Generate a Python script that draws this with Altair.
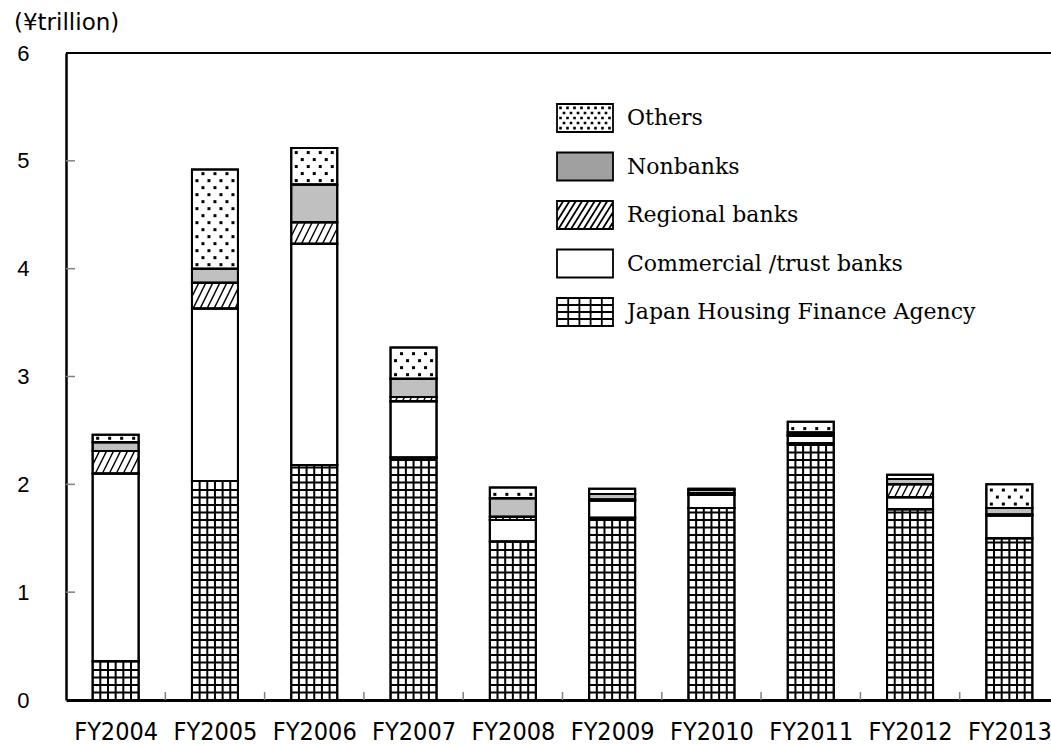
import json
import altair as alt
import pandas as pd

# ---------------- data ----------------
YEARS = ["FY2004", "FY2005", "FY2006", "FY2007", "FY2008",
         "FY2009", "FY2010", "FY2011", "FY2012", "FY2013"]
JHFA = [0.36, 2.03, 2.18, 2.25, 1.47, 1.69, 1.78, 2.38, 1.77, 1.50]
COMMERCIAL = [1.74, 1.60, 2.05, 0.52, 0.20, 0.16, 0.12, 0.07, 0.11, 0.21]
REGIONAL = [0.21, 0.24, 0.20, 0.04, 0.03, 0.01, 0.02, 0.01, 0.12, 0.01]
NONBANKS = [0.08, 0.13, 0.35, 0.17, 0.17, 0.05, 0.03, 0.02, 0.05, 0.06]
OTHERS = [0.07, 0.92, 0.34, 0.29, 0.10, 0.05, 0.01, 0.10, 0.04, 0.22]

SERIES_STACK = ["Japan Housing Finance Agency", "Commercial /trust banks",
                "Regional banks", "Nonbanks", "Others"]
LEGEND_ORDER = ["Others", "Nonbanks", "Regional banks",
                "Commercial /trust banks", "Japan Housing Finance Agency"]
Y_TICKS = [0, 1, 2, 3, 4, 5, 6]
UNIT_LABEL = "(¥trillion)"

# ---------------- layout / style constants ----------------
W, H = 985, 647
STEP = 99.3               # px per category
XMAX = W / STEP
PXU = H / 6.0             # px per y unit
BW = 46                   # bar width px
NARROW = "DejaVu Sans Condensed, Liberation Sans Narrow, Liberation Sans, sans-serif"

values_by_series = [JHFA, COMMERCIAL, REGIONAL, NONBANKS, OTHERS]

# ---------------- stacked segments ----------------
seg_rows = []
for i, yr in enumerate(YEARS):
    cum = 0.0
    xc = i + 0.5
    for s, arr in zip(SERIES_STACK, values_by_series):
        v = arr[i]
        seg_rows.append(dict(year=yr, series=s, value=v, y0=cum, y1=cum + v,
                             xl=xc - BW / 2 / STEP, xr=xc + BW / 2 / STEP, xc=xc))
        cum += v
seg = pd.DataFrame(seg_rows)

# ---------------- pattern geometry derived from the segments ----------------
grid_rows, hatch_rows, dot_rows = [], [], []
lid = 0
GRID_DX = [-15.33, -7.67, 0.0, 7.67, 15.33]
GRID_DY = 7.5
for _, r in seg.iterrows():
    h = (r.y1 - r.y0) * PXU
    if r.series == "Japan Housing Finance Agency":
        for dx in GRID_DX:
            for pt, yv in enumerate([r.y0, r.y1]):
                grid_rows.append(dict(lid=lid, pt=pt, x=r.xc + dx / STEP, y=yv))
            lid += 1
        k = 1
        while k * GRID_DY < h - 1.5:
            yv = r.y0 + k * GRID_DY / PXU
            for pt, xv in enumerate([r.xl, r.xr]):
                grid_rows.append(dict(lid=lid, pt=pt, x=xv, y=yv))
            lid += 1
            k += 1
    elif r.series == "Regional banks":
        slope, sp, half = 2.0, 7.0, BW / 2
        c = -half - h / slope
        while c < half:
            vlo = max(0.0, slope * (-half - c))
            vhi = min(h, slope * (half - c))
            if vhi - vlo > 0.5:
                for pt, vv in enumerate([vlo, vhi]):
                    hatch_rows.append(dict(lid=lid, pt=pt,
                                           x=r.xc + (c + vv / slope) / STEP,
                                           y=r.y0 + vv / PXU))
                lid += 1
            c += sp
    elif r.series == "Others":
        v = 4.0
        row = 0
        while v <= h - 3.0:
            dxs = [-18, -6, 6, 18] if row % 2 == 0 else [-12, 0, 12]
            for dx in dxs:
                dot_rows.append(dict(x=r.xc + dx / STEP, y=r.y0 + v / PXU))
            v += 7.0
            row += 1

grid_df = pd.DataFrame(grid_rows)
hatch_df = pd.DataFrame(hatch_rows)
dot_df = pd.DataFrame(dot_rows)


# ---------------- legend symbol paths (unit = 14 px) ----------------
def f(v):
    return f"{v:.3f}".rstrip("0").rstrip(".") or "0"


RECT = "M-2,-1H2V1H-2Z"
grid_path = RECT + "".join(f"M{f(x)},-1V1" for x in [-1.2, -0.4, 0.4, 1.2]) \
    + "".join(f"M-2,{f(y)}H2" for y in [-0.5, 0, 0.5])
hp = RECT
s_ = 1.6
c = -2 - 1 / s_
while c <= 2 + 1 / s_:
    ylo = max(-1.0, s_ * (c - 2))
    yhi = min(1.0, s_ * (c + 2))
    if yhi - ylo > 0.05:
        hp += f"M{f(c - ylo / s_)},{f(ylo)}L{f(c - yhi / s_)},{f(yhi)}"
    c += 0.45
dp = RECT
for ri, yv in enumerate([-0.72, -0.36, 0.0, 0.36, 0.72]):
    xv = -1.75 + (0.25 if ri % 2 else 0.0)
    while xv <= 1.8:
        dp += f"M{f(xv - 0.03)},{f(yv - 0.03)}h0.06v0.06h-0.06Z"
        xv += 0.5
SHAPES = {"Others": dp, "Nonbanks": RECT, "Regional banks": hp,
          "Commercial /trust banks": RECT, "Japan Housing Finance Agency": grid_path}
LEG_FILL = {"Others": "white", "Nonbanks": "#a0a0a0", "Regional banks": "white",
            "Commercial /trust banks": "white", "Japan Housing Finance Agency": "white"}

# ---------------- scales & axes ----------------
XS = alt.Scale(domain=[0, XMAX], nice=False, zero=False)
YS = alt.Scale(domain=[0, 6], nice=False, zero=True)

XAXIS = alt.Axis(values=[i + 0.5 for i in range(len(YEARS))],
                 labelExpr=f"{json.dumps(YEARS)}[floor(datum.value)]",
                 ticks=False, grid=False, domainColor="black", domainWidth=3,
                 labelFont=NARROW, labelFontSize=25, labelColor="black",
                 labelPadding=19, labelFlush=False, labelOverlap=False, title=None)
YAXIS = alt.Axis(values=Y_TICKS, ticks=False, grid=False, domainColor="black",
                 domainWidth=2.5, labelFont="Liberation Sans", labelFontSize=22,
                 labelColor="black", labelPadding=37, labelFlush=False, title=None)


def xq(field):
    return alt.X(field, scale=XS, axis=XAXIS)


def yq(field):
    return alt.Y(field, scale=YS, axis=YAXIS)


bars = alt.Chart(seg).mark_rect(stroke="black", strokeWidth=2).encode(
    x=xq("xl:Q"), x2="xr:Q", y=yq("y0:Q"), y2="y1:Q",
    fill=alt.condition(alt.datum.series == "Nonbanks", alt.value("#c0c0c0"), alt.value("white")),
)

grid_layer = alt.Chart(grid_df).mark_line(color="black", strokeWidth=2, strokeCap="butt").encode(
    x=xq("x:Q"), y=yq("y:Q"), detail="lid:N", order="pt:Q")

hatch_layer = alt.Chart(hatch_df).mark_line(color="black", strokeWidth=1.4, strokeCap="butt").encode(
    x=xq("x:Q"), y=yq("y:Q"), detail="lid:N", order="pt:Q")

dot_layer = alt.Chart(dot_df).mark_square(size=9, color="black", opacity=1).encode(
    x=xq("x:Q"), y=yq("y:Q"))

outlines = alt.Chart(seg).mark_rect(fill="transparent", stroke="black", strokeWidth=2).encode(
    x=xq("xl:Q"), x2="xr:Q", y=yq("y0:Q"), y2="y1:Q")

ytick_df = pd.DataFrame({"v": Y_TICKS[1:-1]})
yticks = alt.Chart(ytick_df).mark_rule(color="#808080", strokeWidth=1.5).encode(
    y=yq("v:Q"), x=alt.value(0), x2=alt.value(9))

xtick_df = pd.DataFrame({"b": list(range(1, len(YEARS)))})
xticks = alt.Chart(xtick_df).mark_rule(color="#808080", strokeWidth=1.5).encode(
    x=xq("b:Q"), y=alt.value(H - 8), y2=alt.value(H))

top_line = alt.Chart(ytick_df).mark_rule(color="black", strokeWidth=2).encode(
    y=alt.value(0), x=alt.value(0), x2=alt.value(W))

unit_text = alt.Chart(pd.DataFrame({"t": [UNIT_LABEL]})).mark_text(
    align="left", baseline="alphabetic", font="DejaVu Sans", fontSize=23, color="black"
).encode(text="t:N", x=alt.value(-52), y=alt.value(-23))

LEG = alt.Legend(title=None, orient="none", legendX=504, legendY=50,
                 symbolSize=784, symbolStrokeWidth=1.8, symbolStrokeColor="black",
                 symbolOpacity=1, labelFont="DejaVu Serif", labelFontSize=22,
                 labelColor="black", labelOffset=27, rowPadding=12.5, padding=0,
                 labelLimit=600)
leg_df = pd.DataFrame({"series": LEGEND_ORDER})
legend_layer = alt.Chart(leg_df).mark_point(filled=True, opacity=0, strokeWidth=1.8).encode(
    fill=alt.Fill("series:N", scale=alt.Scale(domain=LEGEND_ORDER,
                                              range=[LEG_FILL[s] for s in LEGEND_ORDER]), legend=LEG),
    stroke=alt.Stroke("series:N", scale=alt.Scale(domain=LEGEND_ORDER,
                                                  range=["black"] * len(LEGEND_ORDER)), legend=LEG),
    shape=alt.Shape("series:N", scale=alt.Scale(domain=LEGEND_ORDER,
                                                range=[SHAPES[s] for s in LEGEND_ORDER]), legend=LEG),
)

chart = alt.layer(bars, grid_layer, hatch_layer, dot_layer, outlines, yticks, xticks,
                  top_line, unit_text, legend_layer).properties(
    width=W, height=H,
    autosize=alt.AutoSizeParams(type="none"),
    padding={"left": 66, "top": 53, "right": 0, "bottom": 45},
    background="white",
).configure_view(strokeWidth=0)

chart.save("out.html", embed_options={"renderer": "svg", "actions": False})
